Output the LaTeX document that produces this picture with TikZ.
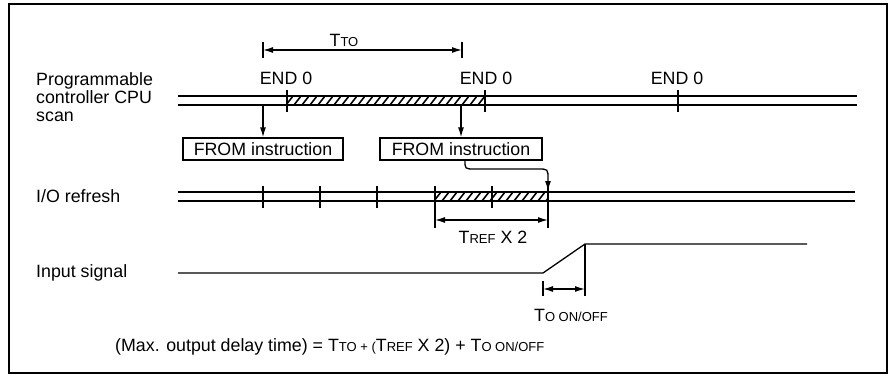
\documentclass[tikz,border=0pt]{standalone}
\usepackage{fontspec}
\setmainfont{Liberation Sans}
\usetikzlibrary{arrows.meta}
\newcommand\smtxt[1]{{\fontsize{13}{15}\selectfont #1}}
\begin{document}
\begin{tikzpicture}[x=1pt,y=-1pt, font=\fontsize{17.8}{21}\selectfont,
 sig/.style={line width=1.3pt},
 tickline/.style={line width=1.3pt},
 arr/.style={line width=1.3pt,-{Latex[length=10pt,width=6pt]}},
 dimline/.style={line width=1.3pt,{Latex[length=10pt,width=6pt]}-{Latex[length=10pt,width=6pt]}},
 hatch/.style={line width=1.6pt},
 box/.style={draw,line width=1.3pt,minimum height=22pt,inner sep=0pt},
 lbl/.style={inner sep=0pt}]
\useasboundingbox (0,0) rectangle (892,380);
\draw[line width=2.5pt] (9,4) rectangle (887,373);

% CPU scan
\node[lbl,anchor=west,align=left,font=\fontsize{17.8}{18}\selectfont] (cpu) at (36,97) {Programmable\\controller CPU\\scan};
\coordinate (c1a) at (178,96); \coordinate (c1b) at (857,96);
\coordinate (c2a) at (178,105); \coordinate (c2b) at (857,105);
\draw[sig] (c1a) -- (c1b);
\draw[sig] (c2a) -- (c2b);
\begin{scope}
\clip (287,96) rectangle (485,105);
\foreach \x in {278,286,...,490} \draw[hatch] (\x,105) -- (\x+7,96);
\end{scope}
\foreach \x in {287,485,678} \draw[tickline] (\x,90) -- (\x,112);
\node[lbl] (e1) at (286,78) {END 0};
\node[lbl] (e2) at (486,78) {END 0};
\node[lbl] (e3) at (677,78) {END 0};

% T_TO
\node[lbl] (tto) at (344,40) {T\smtxt{TO}};
\coordinate (ttoa) at (263,50); \coordinate (ttob) at (462,50);
\draw[tickline] (263,42) -- (263,58);
\draw[tickline] (462,42) -- (462,58);
\draw[dimline] (ttoa) -- (ttob);

% FROM boxes
\node[box,minimum width=160pt] (b1) at (263,149) {FROM instruction};
\node[box,minimum width=162pt] (b2) at (461,149) {FROM instruction};
\coordinate (s1) at (263,105); \coordinate (s2) at (461,105);
\draw[arr] (s1) -- (b1.north);
\draw[arr] (s2) -- (b2.north);

% I/O refresh
\node[lbl,anchor=west] (io) at (36,196) {I/O refresh};
\coordinate (i1a) at (178,192); \coordinate (i1b) at (855,192);
\coordinate (i2a) at (178,201); \coordinate (i2b) at (855,201);
\draw[sig] (i1a) -- (i1b);
\draw[sig] (i2a) -- (i2b);
\begin{scope}
\clip (435,192) rectangle (548,201);
\foreach \x in {426,434,...,552} \draw[hatch] (\x,201) -- (\x+7,192);
\end{scope}
\foreach \x in {263,320,377,492} \draw[tickline] (\x,186) -- (\x,208);
\draw[tickline] (435,186) -- (435,228);
\draw[tickline] (548,186) -- (548,228);
\coordinate (ca) at (548,191);
\draw[arr] ([xshift=4pt]b2.south) .. controls (465,169) .. (475,169) -- (538,169) .. controls (548,169) .. (548,179) -- (ca);

% T_REF x 2
\coordinate (tra) at (435,220); \coordinate (trb) at (548,220);
\draw[dimline] (tra) -- (trb);
\node[lbl] (tref) at (493,237) {T\smtxt{REF} X 2};

% Input signal
\node[lbl,anchor=west] (insig) at (36,273) {Input signal};
\coordinate (p0) at (178,273); \coordinate (p1) at (543,273);
\coordinate (p2) at (585,244); \coordinate (p3) at (807,244);
\draw[sig] (p0) -- (p1) -- (p2) -- (p3);
\draw[tickline] (p2) -- (585,296);
\draw[tickline] (543,281) -- (543,296);
\coordinate (ona) at (543,289); \coordinate (onb) at (585,289);
\draw[dimline] (ona) -- (onb);
\node[lbl] (ton) at (571,315) {T\smtxt{O ON/OFF}};

% formula
\node[lbl,anchor=west] (form) at (115,347) {(Max. output delay time) = T\smtxt{TO + (}T\smtxt{REF} X 2) + T\smtxt{O ON/OFF}};
\end{tikzpicture}
\end{document}
